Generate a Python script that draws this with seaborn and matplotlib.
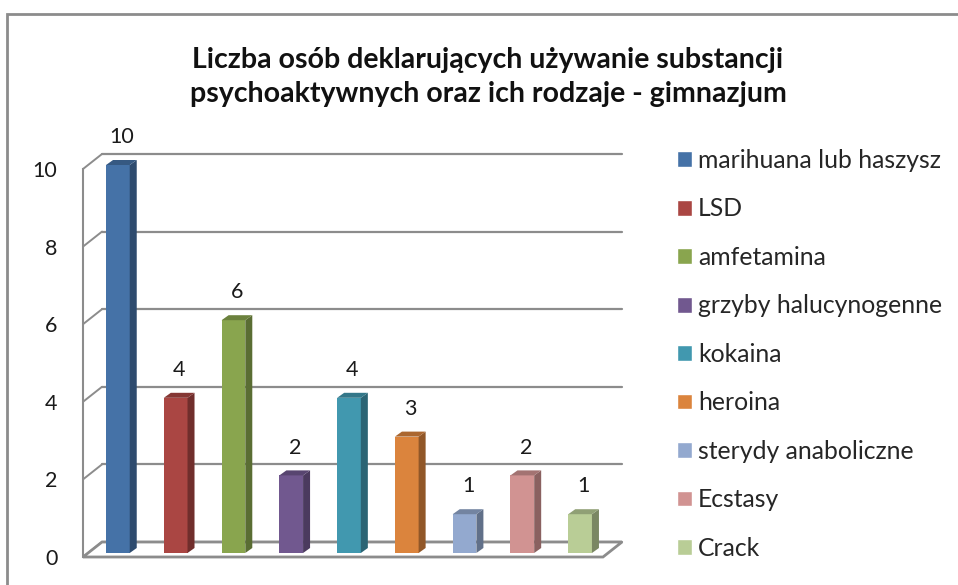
import numpy as np
import pandas as pd
import seaborn as sns
import matplotlib.pyplot as plt
import matplotlib.colors as mcolors
from matplotlib.patches import Polygon, Rectangle

# dane
substancje = ["marihuana lub haszysz", "LSD", "amfetamina", "grzyby halucynogenne",
              "kokaina", "heroina", "sterydy anaboliczne", "Ecstasy", "Crack"]
liczba_osob = [10, 4, 6, 2, 4, 3, 1, 2, 1]
kolory = ["#4572A7", "#AA4643", "#89A54E", "#71588F", "#4198AF",
          "#DB843D", "#93A9CF", "#D19392", "#B9CD96"]
y_ticks = [0, 2, 4, 6, 8, 10]
tytul = "Liczba osób deklarujących używanie substancji\npsychoaktywnych oraz ich rodzaje - gimnazjum"

sns.set_style("white")
plt.rcParams["font.family"] = ["Lato", "DejaVu Sans"]

SZARY = "#8c8c8c"
FS = 15.5
W, H = 958, 585

df = pd.DataFrame({"substancja": substancje, "liczba": liczba_osob})

fig = plt.figure(figsize=(W / 100, H / 100), dpi=100)
ax = fig.add_axes([83 / W, (H - 557) / H, 520 / W, 388 / H])

sns.barplot(data=df, x="substancja", y="liczba", hue="substancja", palette=kolory,
            width=0.41, legend=False, ax=ax, saturation=1, linewidth=0, zorder=3)
ax.set_xlim(-0.5, 8.5)
ax.set_ylim(0, 10)


def px2data(dx, dy):
    inv = ax.transData.inverted()
    p0 = ax.transData.transform((0, 0))
    return inv.transform(p0 + np.array([dx, dy]))


def ciemniej(c, f):
    r, g, b = mcolors.to_rgb(c)
    return (r * f, g * f, b * f)


bdx, bdy = px2data(19, 15)   # tylna sciana
sdx, sdy = px2data(6, 4)     # przesuniecie slupkow
ddx, ddy = px2data(7, 5)     # glebokosc slupka

# podloga i siatka na tylnej scianie
ax.add_patch(Polygon([(-0.5, 0), (8.5, 0), (8.5 + bdx, bdy), (-0.5 + bdx, bdy)],
                     closed=True, fc="white", ec=SZARY, lw=2, clip_on=False, zorder=1))
for t in y_ticks:
    ax.plot([-0.5 + bdx, 8.5 + bdx], [t + bdy, t + bdy], color=SZARY, lw=1.6,
            clip_on=False, zorder=0.5)
    ax.plot([-0.5, -0.5 + bdx], [t, t + bdy], color=SZARY, lw=1.4,
            clip_on=False, zorder=0.5)

# slupki 3D
bary = [p for p in ax.patches if isinstance(p, Rectangle)]
for p, kol, v in zip(bary, kolory, liczba_osob):
    x, w, h = p.get_x() + sdx, p.get_width(), p.get_height()
    y0 = sdy
    p.set_x(x)
    p.set_y(y0)
    p.set_clip_on(False)
    ax.add_patch(Polygon([(x + w, y0), (x + w + ddx, y0 + ddy), (x + w + ddx, y0 + h + ddy),
                          (x + w, y0 + h)], closed=True, fc=ciemniej(kol, 0.66), lw=0,
                         clip_on=False, zorder=3))
    ax.add_patch(Polygon([(x, y0 + h), (x + ddx, y0 + h + ddy), (x + w + ddx, y0 + h + ddy),
                          (x + w, y0 + h)], closed=True, fc=ciemniej(kol, 0.78), lw=0,
                         clip_on=False, zorder=3))
    ax.annotate(str(v), (x + w / 2 + ddx / 2, y0 + h), xytext=(0, 20),
                textcoords="offset points", ha="center", va="center",
                fontsize=FS, color="#1a1a1a", annotation_clip=False)

ax.set_yticks(y_ticks)
ax.set_xticks([])
ax.set_xlabel("")
ax.set_ylabel("")
ax.tick_params(axis="y", length=0, pad=18.5, labelsize=FS, labelcolor="#1a1a1a")
for s in ["top", "right", "bottom"]:
    ax.spines[s].set_visible(False)
ax.spines["left"].set_color(SZARY)
ax.spines["left"].set_linewidth(1.5)
ax.patch.set_alpha(0)

# legenda
uchwyty = [Rectangle((0, 0), 1, 1, fc=c) for c in kolory]
fig.legend(uchwyty, substancje, loc="upper left", bbox_to_anchor=(677 / W, 1 - 149 / H),
           bbox_transform=fig.transFigure, frameon=False, fontsize=17.8,
           handlelength=0.6, handleheight=0.6, handletextpad=0.25,
           labelspacing=1.03, borderpad=0, borderaxespad=0)

# tytul i ramka
fig.text(488 / W, 1 - 77 / H, tytul, ha="center", va="center", fontsize=20.5,
         fontweight="bold", linespacing=1.42, color="#111111")
fig.patches.append(Rectangle((7 / W, -0.1), 1, (H - 14) / H + 0.1,
                             transform=fig.transFigure, fill=False, ec=SZARY, lw=2))

fig.savefig("out.png", dpi=100)
